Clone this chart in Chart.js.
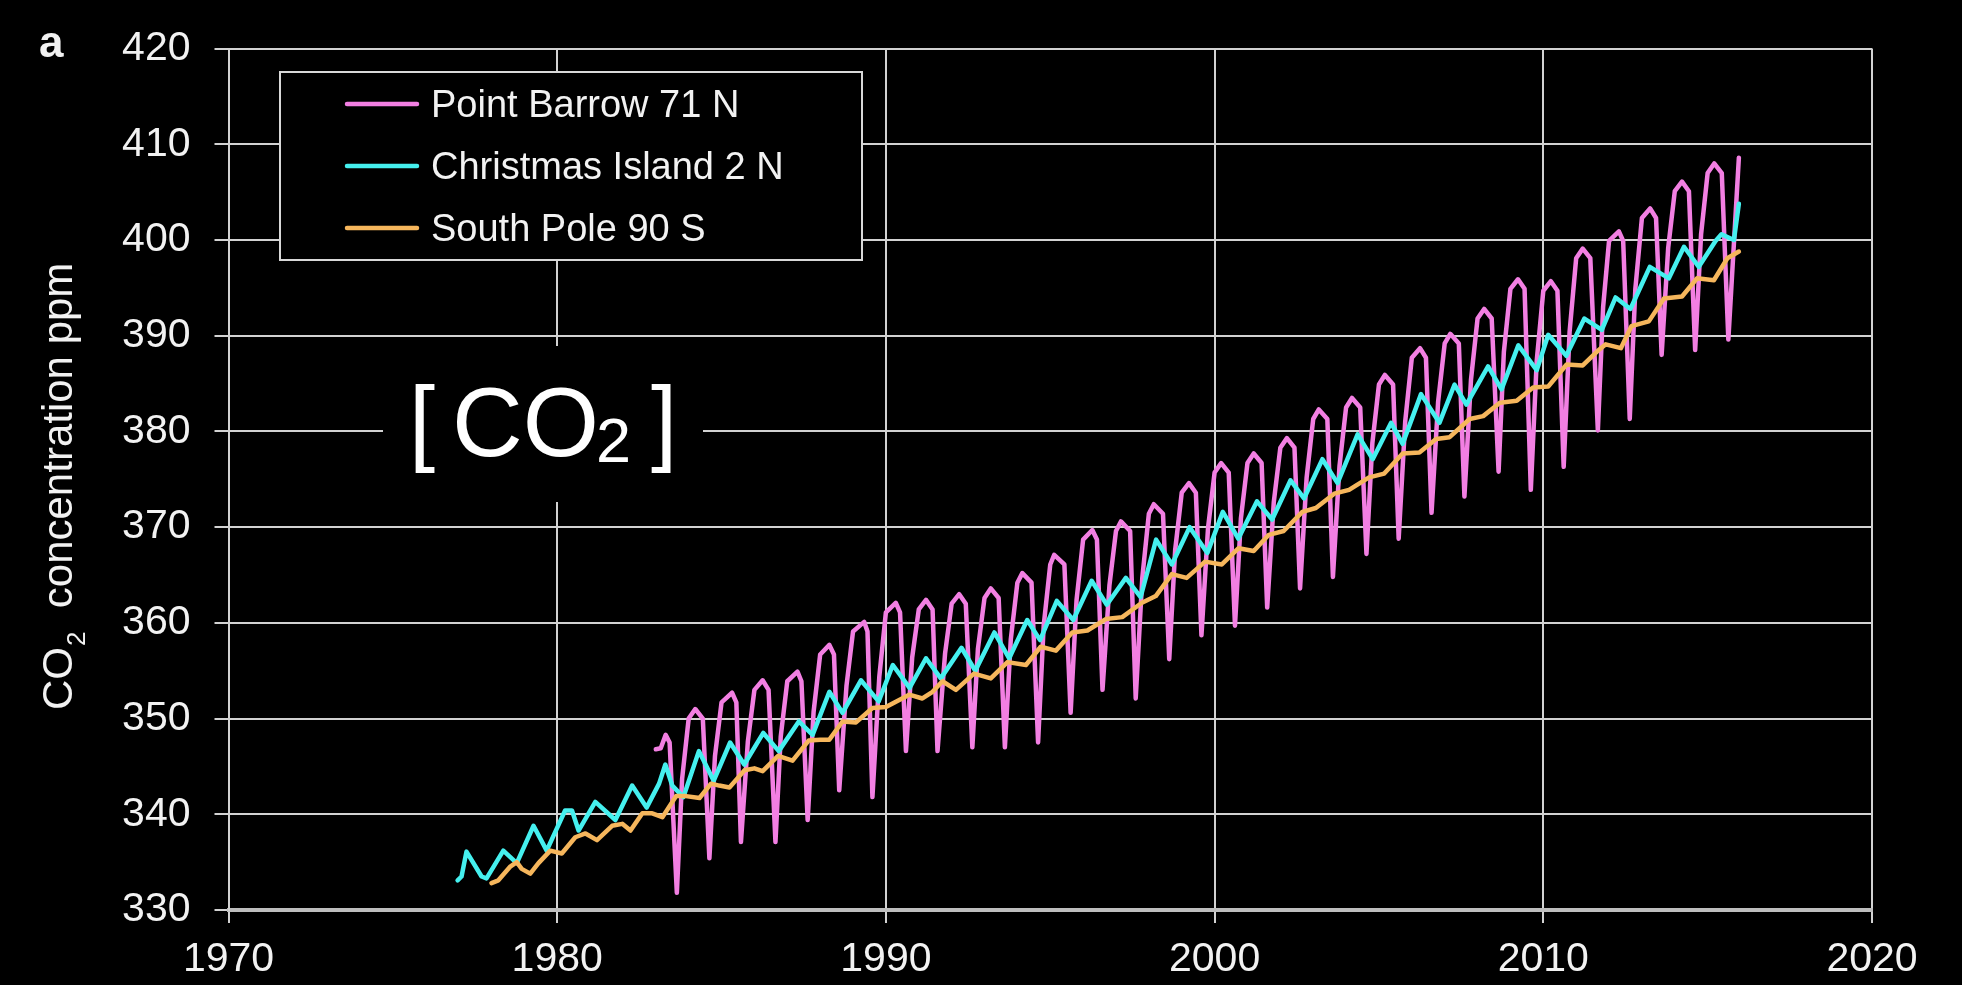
<!DOCTYPE html>
<html>
<head>
<meta charset="utf-8">
<title>Atmospheric CO2 at three stations</title>
<script src="https://cdn.jsdelivr.net/npm/chart.js@4/dist/chart.umd.min.js"></script>
<style>
  html, body { margin: 0; padding: 0; background: #000; overflow: hidden; }
  canvas { display: block; }
</style>
</head>
<body>
<canvas id="co2" width="1962" height="985"></canvas>
<script>
// Axis ticks
const yearTicks = [1970, 1980, 1990, 2000, 2010, 2020];
const ppmTicks = [330, 340, 350, 360, 370, 380, 390, 400, 410, 420];

// Station names and line colours
const seriesNames = ['Point Barrow 71 N', 'Christmas Island 2 N', 'South Pole 90 S'];
const seriesColors = ['#f27fe2', '#45f0ef', '#f6b65c'];

// Point Barrow: decimal year / ppm (each row: autumn rise, winter, spring peak, early summer, late-summer low)
const barrowYear = [
  1983.00, 1983.15, 1983.30, 1983.42, 1983.64,
  1983.80, 1984.00, 1984.20, 1984.43, 1984.63,
  1984.80, 1985.00, 1985.32, 1985.45, 1985.59,
  1985.80, 1986.00, 1986.25, 1986.43, 1986.64,
  1986.80, 1987.00, 1987.31, 1987.43, 1987.62,
  1987.80, 1988.00, 1988.28, 1988.42, 1988.58,
  1988.80, 1989.00, 1989.34, 1989.44, 1989.59,
  1989.80, 1990.00, 1990.30, 1990.43, 1990.61,
  1990.80, 1991.00, 1991.22, 1991.42, 1991.57,
  1991.80, 1992.00, 1992.23, 1992.43, 1992.63,
  1992.80, 1993.00, 1993.19, 1993.43, 1993.62,
  1993.80, 1994.00, 1994.15, 1994.43, 1994.63,
  1994.80, 1995.00, 1995.12, 1995.43, 1995.62,
  1995.80, 1996.00, 1996.28, 1996.42, 1996.59,
  1996.80, 1997.00, 1997.15, 1997.43, 1997.60,
  1997.80, 1998.00, 1998.15, 1998.43, 1998.62,
  1998.80, 1999.00, 1999.22, 1999.43, 1999.60,
  1999.80, 2000.00, 2000.20, 2000.43, 2000.62,
  2000.80, 2001.00, 2001.19, 2001.43, 2001.60,
  2001.80, 2002.00, 2002.20, 2002.43, 2002.60,
  2002.80, 2003.00, 2003.17, 2003.43, 2003.60,
  2003.80, 2004.00, 2004.18, 2004.43, 2004.62,
  2004.80, 2005.00, 2005.18, 2005.43, 2005.60,
  2005.80, 2006.00, 2006.25, 2006.43, 2006.60,
  2006.80, 2007.00, 2007.17, 2007.43, 2007.60,
  2007.80, 2008.00, 2008.20, 2008.43, 2008.64,
  2008.80, 2009.00, 2009.23, 2009.43, 2009.62,
  2009.80, 2010.00, 2010.23, 2010.43, 2010.62,
  2010.80, 2011.00, 2011.20, 2011.43, 2011.66,
  2011.82, 2012.00, 2012.30, 2012.43, 2012.63,
  2012.80, 2013.00, 2013.25, 2013.43, 2013.60,
  2013.80, 2014.00, 2014.22, 2014.43, 2014.62,
  2014.80, 2015.00, 2015.20, 2015.43, 2015.63,
  2015.95
];
const barrowPpm = [
  346.8, 346.9, 348.3, 347.5, 331.8,
  343.7, 350.0, 351.0, 350.0, 335.4,
  346.1, 351.7, 352.7, 351.7, 337.1,
  347.6, 353.0, 354.0, 353.0, 337.1,
  348.1, 353.9, 354.9, 353.9, 339.4,
  350.7, 356.7, 357.7, 356.7, 342.5,
  353.4, 359.1, 360.1, 359.1, 341.8,
  354.4, 361.1, 362.1, 361.1, 346.6,
  356.4, 361.4, 362.4, 361.4, 346.6,
  356.8, 362.0, 363.0, 362.0, 347.0,
  357.3, 362.6, 363.6, 362.6, 347.0,
  358.3, 364.2, 365.2, 364.2, 347.5,
  359.7, 366.1, 367.1, 366.1, 350.6,
  362.4, 368.7, 369.7, 368.7, 353.0,
  363.9, 369.6, 370.6, 369.6, 352.1,
  364.7, 371.4, 372.4, 371.4, 356.2,
  367.6, 373.6, 374.6, 373.6, 358.7,
  369.9, 375.7, 376.7, 375.7, 359.7,
  370.9, 376.7, 377.7, 376.7, 361.6,
  372.6, 378.3, 379.3, 378.3, 363.6,
  375.2, 381.3, 382.3, 381.3, 364.8,
  376.4, 382.5, 383.5, 382.5, 367.2,
  378.8, 384.9, 385.9, 384.9, 368.8,
  381.1, 387.7, 388.7, 387.7, 371.5,
  383.1, 389.2, 390.2, 389.2, 373.2,
  385.4, 391.8, 392.8, 391.8, 375.8,
  388.3, 394.9, 395.9, 394.9, 373.9,
  387.4, 394.7, 395.7, 394.7, 376.3,
  390.4, 398.1, 399.1, 398.1, 380.1,
  393.0, 399.9, 400.9, 399.9, 381.3,
  394.9, 402.3, 403.3, 402.3, 388.0,
  399.2, 405.1, 406.1, 405.1, 388.5,
  400.6, 407.0, 408.0, 407.0, 389.6,
  408.6
];

// Christmas Island: decimal year / ppm (seasonal highs and lows)
const xmasYear = [
  1976.97, 1977.09, 1977.24, 1977.70, 1977.85, 1978.36, 1978.77, 1979.28, 1979.68,
  1980.24, 1980.45, 1980.65, 1981.16, 1981.77, 1982.28, 1982.72, 1983.10, 1983.29,
  1983.50, 1983.84, 1984.31, 1984.76, 1985.26, 1985.69, 1986.27, 1986.74, 1987.35,
  1987.77, 1988.28, 1988.68, 1989.24, 1989.78, 1990.21, 1990.72, 1991.22, 1991.67,
  1992.30, 1992.72, 1993.30, 1993.75, 1994.30, 1994.69, 1995.20, 1995.70, 1996.26,
  1996.72, 1997.30, 1997.75, 1998.22, 1998.70, 1999.24, 1999.78, 2000.25, 2000.72,
  2001.29, 2001.75, 2002.31, 2002.72, 2003.28, 2003.74, 2004.35, 2004.81, 2005.37,
  2005.72, 2006.28, 2006.84, 2007.30, 2007.66, 2008.32, 2008.73, 2009.24, 2009.80,
  2010.15, 2010.70, 2011.25, 2011.78, 2012.20, 2012.65, 2013.24, 2013.82, 2014.28,
  2014.73, 2015.24, 2015.42, 2015.80, 2015.95
];
const xmasPpm = [
  333.1, 333.5, 336.1, 333.5, 333.3, 336.2, 334.9, 338.8, 336.2,
  340.4, 340.4, 338.3, 341.3, 339.4, 343.0, 340.7, 343.2, 345.2,
  343.0, 341.8, 346.6, 343.5, 347.5, 345.2, 348.5, 346.6, 349.7,
  348.3, 352.8, 350.6, 354.0, 351.8, 355.6, 353.2, 356.3, 354.2,
  357.4, 355.0, 359.0, 356.3, 360.3, 358.2, 362.3, 360.3, 364.4,
  361.9, 364.7, 362.7, 368.7, 366.1, 370.0, 367.3, 371.6, 368.8,
  372.7, 370.8, 374.9, 373.0, 377.1, 374.6, 379.7, 377.1, 380.9,
  378.7, 383.9, 380.9, 384.9, 382.8, 386.8, 384.4, 389.0, 386.4,
  390.1, 387.9, 391.8, 390.6, 394.0, 392.8, 397.2, 396.0, 399.3,
  397.2, 399.9, 400.6, 400.0, 403.8
];

// South Pole: decimal year / ppm
const southPoleYear = [
  1978.00, 1978.21, 1978.56, 1978.77, 1978.92, 1979.18, 1979.43, 1979.79, 1980.14,
  1980.55, 1980.86, 1981.21, 1981.67, 1981.98, 1982.23, 1982.59, 1982.89, 1983.20,
  1983.62, 1983.92, 1984.33, 1984.68, 1984.93, 1985.24, 1985.70, 1986.00, 1986.25,
  1986.72, 1987.16, 1987.65, 1988.00, 1988.28, 1988.68, 1989.09, 1989.59, 1990.00,
  1990.71, 1991.11, 1991.42, 1991.72, 1992.13, 1992.68, 1993.19, 1993.70, 1994.26,
  1994.71, 1995.17, 1995.67, 1996.13, 1996.69, 1997.19, 1997.79, 1998.21, 1998.70,
  1999.15, 1999.71, 2000.22, 2000.73, 2001.19, 2001.65, 2002.10, 2002.67, 2003.08,
  2003.64, 2004.09, 2004.70, 2005.16, 2005.72, 2006.23, 2006.74, 2007.15, 2007.76,
  2008.17, 2008.68, 2009.19, 2009.69, 2010.15, 2010.71, 2011.20, 2011.65, 2011.90,
  2012.36, 2012.68, 2013.21, 2013.67, 2014.22, 2014.68, 2015.19, 2015.60, 2015.95
];
const southPolePpm = [
  332.8, 333.1, 334.5, 335.0, 334.3, 333.8, 334.9, 336.2, 335.9,
  337.6, 338.0, 337.3, 338.8, 339.0, 338.3, 340.1, 340.1, 339.7,
  341.9, 341.9, 341.7, 343.2, 343.0, 342.8, 344.6, 344.8, 344.5,
  346.1, 345.6, 347.7, 347.8, 347.8, 349.7, 349.6, 351.1, 351.2,
  352.5, 352.1, 352.8, 353.9, 353.0, 354.7, 354.2, 355.9, 355.6,
  357.5, 357.1, 359.0, 359.2, 360.4, 360.6, 362.1, 362.8, 365.1,
  364.7, 366.4, 366.1, 367.8, 367.5, 369.2, 369.6, 371.6, 372.0,
  373.5, 373.9, 375.2, 375.6, 377.7, 377.8, 379.2, 379.4, 381.3,
  381.6, 383.0, 383.2, 384.6, 384.7, 387.0, 386.9, 388.4, 389.1,
  388.7, 391.0, 391.5, 393.9, 394.1, 396.0, 395.8, 398.1, 398.8
];

const FONT = '"Liberation Sans", Arial, Helvetica, sans-serif';
const TEXT = '#f2f2f2';
const GRID = '#d2d2d2';
const LINE_W = 4.5;

const toPoints = (xs, ys) => xs.slice(0, ys.length).map((x, i) => ({ x, y: ys[i] }));

// Panel label, y-axis title, bracketed formula and the boxed key
const overlay = {
  id: 'overlay',
  beforeDatasetsDraw(chart) {
    const c = chart.ctx;
    c.save();
    // formula sits on its own black patch over the grid
    c.fillStyle = '#000';
    c.fillRect(383, 346, 320, 156);
    c.fillStyle = '#ffffff';
    c.textAlign = 'left';
    c.textBaseline = 'alphabetic';
    c.font = `94px ${FONT}`;
    c.fillText('[', 409, 453);
    c.font = `98px ${FONT}`;
    c.fillText('CO', 452, 456);
    c.font = `63px ${FONT}`;
    c.fillText('2', 596, 462);
    c.font = `94px ${FONT}`;
    c.fillText(']', 651, 453);
    c.restore();
  },
  afterDraw(chart) {
    const c = chart.ctx;
    c.save();
    c.fillStyle = TEXT;
    c.textAlign = 'left';
    c.textBaseline = 'alphabetic';

    // panel letter
    c.font = `bold 44px ${FONT}`;
    c.fillText('a', 39, 57);

    // rotated y-axis title with subscript
    c.save();
    c.translate(72, 710);
    c.rotate(-Math.PI / 2);
    c.font = `42px ${FONT}`;
    c.fillText('CO', 0, 0);
    let w = c.measureText('CO').width;
    c.font = `26px ${FONT}`;
    c.fillText('2', w + 1, 13);
    w += c.measureText('2').width + 1;
    c.font = `42px ${FONT}`;
    c.fillText('  concentration ppm', w, 0);
    c.restore();

    // key box
    c.fillStyle = '#000';
    c.fillRect(280, 72, 582, 188);
    c.strokeStyle = '#d8d8d8';
    c.lineWidth = 2;
    c.strokeRect(280, 72, 582, 188);
    c.font = `38px ${FONT}`;
    chart.data.datasets.forEach((ds, i) => {
      const yy = 104 + i * 62;
      c.strokeStyle = ds.borderColor;
      c.lineWidth = LINE_W;
      c.lineCap = 'round';
      c.beginPath();
      c.moveTo(347, yy);
      c.lineTo(417, yy);
      c.stroke();
      c.fillStyle = TEXT;
      c.fillText(ds.label, 431, yy + 12.5);
    });
    c.restore();
  }
};

new Chart(document.getElementById('co2'), {
  type: 'line',
  data: {
    datasets: [
      { label: seriesNames[0], data: toPoints(barrowYear, barrowPpm), borderColor: seriesColors[0], order: 3 },
      { label: seriesNames[1], data: toPoints(xmasYear, xmasPpm), borderColor: seriesColors[1], order: 2 },
      { label: seriesNames[2], data: toPoints(southPoleYear, southPolePpm), borderColor: seriesColors[2], order: 1 }
    ]
  },
  options: {
    responsive: false,
    animation: false,
    devicePixelRatio: 1,
    elements: {
      line: { borderWidth: LINE_W, tension: 0, borderJoinStyle: 'round', borderCapStyle: 'round', fill: false },
      point: { radius: 0, hoverRadius: 0 }
    },
    layout: { padding: { top: 42, right: 90, bottom: 0, left: 0 } },
    plugins: { legend: { display: false }, tooltip: { enabled: false } },
    scales: {
      x: {
        type: 'linear',
        min: yearTicks[0],
        max: yearTicks[yearTicks.length - 1],
        afterBuildTicks: s => { s.ticks = yearTicks.map(v => ({ value: v })); },
        afterFit: s => { s.height = 75; },
        ticks: {
          color: TEXT, font: { family: FONT, size: 41 }, padding: 12,
          maxRotation: 0, autoSkip: false, callback: v => String(v)
        },
        grid: { color: GRID, lineWidth: 2, tickLength: 13, tickColor: GRID },
        border: { color: '#bdbdbd', width: 4 }
      },
      y: {
        type: 'linear',
        min: ppmTicks[0],
        max: ppmTicks[ppmTicks.length - 1],
        afterBuildTicks: s => { s.ticks = ppmTicks.map(v => ({ value: v })); },
        afterFit: s => { s.width = 228.5; },
        ticks: { color: TEXT, font: { family: FONT, size: 41 }, padding: 24, callback: v => String(v) },
        grid: { color: GRID, lineWidth: 2, tickLength: 14, tickColor: GRID },
        border: { color: GRID, width: 2 }
      }
    }
  },
  plugins: [overlay]
});
</script>
</body>
</html>
